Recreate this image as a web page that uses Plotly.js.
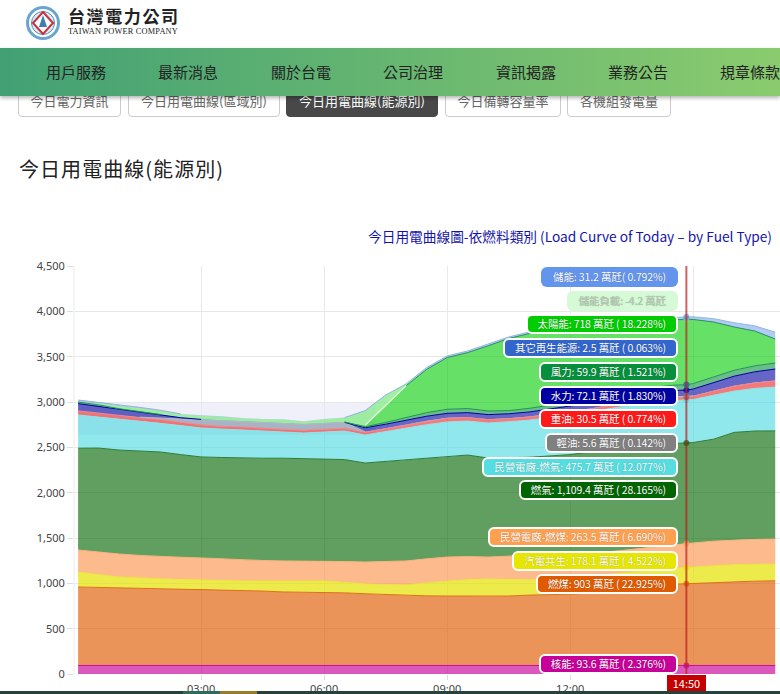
<!DOCTYPE html>
<html>
<head>
<meta charset="utf-8">
<script src="https://cdn.plot.ly/plotly-3.0.1.min.js"></script>
<style>
  html, body { margin: 0; padding: 0; background: #fff; overflow: hidden; width: 780px; height: 694px;
    font-family: "Noto Sans CJK TC", "Noto Sans", sans-serif; }
  #page { position: relative; width: 780px; height: 694px; overflow: hidden; }
  #brand { position: absolute; left: 68px; top: 5px; color: #222; }
  #brand .zh { font-size: 17px; font-weight: 700; letter-spacing: 1.6px; line-height: 22px; font-family: "Noto Sans CJK TC"; }
  #brand .en { font-size: 8.3px; font-family: "Liberation Serif", serif; letter-spacing: .2px; line-height: 10px; }
  #nav { position: absolute; left: 0; top: 48px; width: 780px; height: 48px; z-index: 5;
    background: linear-gradient(90deg, #42a074, #8acb6e); box-shadow: 0 2px 4px rgba(0,0,0,.3); }
  #nav span { position: absolute; top: 13px; font-size: 15px; line-height: 22px; color: #222; white-space: nowrap; }
  .btn { position: absolute; top: 80px; height: 37px; box-sizing: border-box; border: 1px solid #ccc; border-radius: 4px;
    font-size: 13px; color: #666; text-align: center; padding-top: 10px; background: #fff; white-space: nowrap; }
  .btn.on { background: #484848; color: #fff; border-color: #484848; }
  #heading { position: absolute; left: 19px; top: 155px; font-size: 20px; letter-spacing: 1.05px; line-height: 28px; color: #222; }
  #chart { position: absolute; left: 0; top: 0; width: 780px; height: 694px; }
  .tip { position: absolute; right: 102px; height: 20px; box-sizing: border-box; padding: 0 10px; border: 2px solid #fff;
    border-radius: 6px; font-size: 10.5px; letter-spacing: -.12px; line-height: 16px; color: #fff; white-space: nowrap; z-index: 3;
    text-shadow: 0 0 1px rgba(0,0,0,.35); }
  #nowTag { position: absolute; left: 667px; top: 675px; width: 39px; height: 16px; background: #c40000; color: #fff;
    font-size: 11px; line-height: 17px; text-align: center; z-index: 4; }
  #foot { position: absolute; left: 0; top: 691px; width: 780px; height: 3px; background: #25423c; z-index: 4; }
  #foot i { position: absolute; top: 0; height: 3px; }
</style>
</head>
<body>
<div id="page">
  <svg style="position:absolute;left:26px;top:6px" width="34" height="34" viewBox="0 0 34 34">
    <circle cx="17" cy="17" r="15.5" fill="#fff" stroke="#6aa5cf" stroke-width="3"/>
    <circle cx="17" cy="17" r="11.5" fill="#dbe9f2" stroke="#4d8fbd" stroke-width="1"/>
    <path d="M17 6 L27 17 L17 28 L7 17 Z" fill="#fff" stroke="#c8323c" stroke-width="2"/>
    <path d="M17 9 L21 21 L13 21 Z" fill="#3f7fae"/>
  </svg>
  <div id="brand"><div class="zh">台灣電力公司</div><div class="en">TAIWAN POWER COMPANY</div></div>
  <div id="buttons"></div>
  <div id="nav"></div>
  <div id="heading">今日用電曲線(能源別)</div>
  <div id="chart"></div>
  <div id="tips"></div>
  <div id="nowTag">14:50</div>
  <div id="foot"><i style="left:183px;width:37px;background:#2f6b5a"></i><i style="left:220px;width:37px;background:#9a7a2c"></i></div>
</div>
<script>
// =====================
// DATA
// =====================
const nowTime = "14:50";
const times = ["00:00","00:30","01:00","01:30","02:00","02:30","03:00","03:30","04:00","04:30","05:00","05:30",
  "06:00","06:30","07:00","07:30","08:00","08:30","09:00","09:30","10:00","10:30","11:00","11:30",
  "12:00","12:30","13:00","13:30","14:00","14:30","14:50","15:00","15:30","16:00","16:30","17:00"];

// 萬瓩, bottom of the stack first
const nuclear = [94,94,94,94,94,94,94,94,94,94,94,94,94,94,94,94,94,94,94,94,94,94,94,94,94,94,94,94,94,94,93.6,94,94,94,94,94];
const coal = [866,861,856,851,846,844,843,836,831,821,811,809,808,801,791,781,774,768,766,766,764,766,776,781,786,801,826,856,881,896,903,906,916,926,930,934];
const cogen = [165,140,120,115,108,104,100,100,101,111,121,123,124,115,108,110,114,143,166,180,190,182,167,173,180,185,180,175,175,175,178.1,180,185,185,186,185];
const privateCoal = [243,250,253,248,247,246,243,240,232,226,221,221,221,230,242,255,265,265,264,255,242,258,275,262,260,255,250,250,250,260,263.5,265,270,273,275,276];
const gas = [1122,1147,1147,1152,1154,1132,1114,1118,1124,1128,1133,1128,1124,1125,1092,1105,1113,1110,1104,1120,1092,1085,1078,1095,1100,1115,1130,1135,1130,1118,1109.4,1108,1125,1187,1195,1193];
const privateGas = [367,343,343,330,319,320,319,312,313,300,289,283,298,315,309,330,353,370,386,375,386,395,410,425,440,440,450,455,465,472,475.7,475,485,455,470,483];
const heavyOil = [45,40,35,38,40,38,35,30,30,30,30,30,30,30,30,30,35,38,40,38,38,35,35,34,34,34,34,34,34,35,30.5,35,45,55,60,66];
const lightOil = [0,0,0,5,15,34,57,65,60,65,65,65,65,65,5,5,5,5,5,5,5,5,5,5,5,5,5,5,5,5,5.6,5,5,5,5,5];
const hydro = [80,78,70,55,35,15,3,0,0,0,0,0,0,0,45,45,45,50,50,50,50,50,50,55,60,60,65,68,70,72,72.1,75,90,105,118,128];
const wind = [18,15,8,8,5,5,5,5,5,5,5,5,5,5,10,20,30,40,45,45,40,35,40,40,40,45,50,55,55,58,59.9,60,62,65,66,66];
const otherRenew = [2,2,2,2,2,2,2,2,2,2,2,2,2,2,2,2,2,2,2,2,2,2,2,2,2,2,2,2,2,2,2.5,2.5,3,3,3,3];
const solar = [0,0,0,0,0,0,0,0,0,0,0,0,0,0,15,180,350,475,568,615,717,793,823,839,849,834,799,766,744,723,718,705,602,474,381,262];
const storageLoad = [0,13,28,33,38,30,33,36,28,28,36,25,38,43,155,115,15,0,-2,-2,-3,-3,-3,-3,-3,-3,-3,-3,-4,-4,-4.2,-4,-3,-3,-3,-3];
const storage = [20,15,12,10,7,5,5,5,3,3,3,3,3,3,7,5,5,20,20,20,20,20,20,25,25,25,25,25,25,28,31.2,33,40,50,60,78];

// tooltip readout at 14:50, top of the box list first
const tipNames = ["儲能","儲能負載","太陽能","其它再生能源","風力","水力","重油","輕油","民營電廠-燃氣","燃氣","民營電廠-燃煤","汽電共生","燃煤","核能"];
const tipValues = ["31.2","-4.2","718","2.5","59.9","72.1","30.5","5.6","475.7","1,109.4","263.5","178.1","903","93.6"];
const tipPercents = ["0.792","","18.228","0.063","1.521","1.830","0.774","0.142","12.077","28.165","6.690","4.522","22.925","2.376"];

const yTicks = [0,500,1000,1500,2000,2500,3000,3500,4000,4500];
const xTickTimes = ["03:00","06:00","09:00","12:00","15:00"];
const xTickLabels = ["03:00","06:00","09:00","12:00",""]; // 15:00 sits under the time tag
const navItems = ["用戶服務","最新消息","關於台電","公司治理","資訊揭露","業務公告","規章條款"];
const tabItems = ["今日電力資訊","今日用電曲線(區域別)","今日用電曲線(能源別)","今日備轉容量率","各機組發電量"];

// =====================
// STYLES
// =====================
const day = "2024-01-01 ";
const xValues = times.map(t => day + t);
const navLeft = [46,158,271,383,496,608,720];
const tabLeft = [18,128,286,445,567];
const tabWidth = [103,152,152,116,104];
const tipColors = ["#6495ed","#d6fad6","#00cc00","#3366cc","#078f3c","#0000a0","#ff1a1a","#808080","#55dde0","#006400","#ffa050","#e6e600","#e05a00","#c7009a"];
const tipCenters = [277,301,324,348,372,396,419,443,467,490,537,561,584,664];

// name, values, edge line, marker, fill
const stackDefs = [
  ["核能", nuclear, "#c7109a", "#c7009a", "rgba(199,0,154,0.65)"],
  ["燃煤", coal, "#e0701a", "#e05a00", "rgba(224,90,0,0.65)"],
  ["汽電共生", cogen, "#ece63a", "#e6e600", "rgba(230,225,0,0.7)"],
  ["民營電廠-燃煤", privateCoal, "#f9b27c", "#ffa050", "rgba(252,150,80,0.65)"],
  ["燃氣", gas, "#2f7d38", "#006400", "rgba(0,100,0,0.62)"],
  ["民營電廠-燃氣", privateGas, "#8fe4e8", "#55dde0", "rgba(70,215,224,0.6)"],
  ["重油", heavyOil, "#f08a8a", "#ff1a1a", "rgba(240,30,30,0.6)"],
  ["輕油", lightOil, "#aebbc6", "#808080", "rgba(110,130,150,0.55)"],
  ["水力", hydro, "#0000a0", "#0000a0", "rgba(0,0,160,0.6)"],
  ["風力", wind, "#1a9a4a", "#078f3c", "rgba(7,143,60,0.6)"],
  ["其它再生能源", otherRenew, null, "#3366cc", "rgba(51,102,204,0.6)"],
  ["太陽能", solar, "#2a8f6a", "#2a6fb0", "rgba(0,204,0,0.6)"],
  ["儲能負載", storageLoad, null, "#90ee90", "rgba(130,235,130,0.75)"],
  ["儲能", storage, "#8fb8d8", "#6495ed", "rgba(100,149,237,0.5)"]
];

// filled stack, no edges
const fillTraces = stackDefs.map(d => ({
  type: "scatter",
  mode: "none",
  stackgroup: "load",
  name: d[0],
  x: xValues,
  y: d[1],
  fillcolor: d[4],
  hoverinfo: "skip"
}));

// edge lines follow the running total, and stop where a series has next to nothing to show
let runningTotal = times.map(() => 0);
let solarTop = [];
const edgeTraces = stackDefs.map(d => {
  runningTotal = runningTotal.map((v, i) => v + d[1][i]);
  if (d[1] === solar) solarTop = runningTotal.slice();
  // solar's edge goes pale where the storage load band lies over it
  const shown = d[1].map((v, i) => Math.abs(v) > 5 && !(d[1] === solar && storageLoad[i] > 5));
  return {
    type: "scatter",
    mode: "lines+markers",
    x: xValues,
    y: runningTotal.map((v, i) => (d[2] && (shown[i] || shown[i - 1] || shown[i + 1])) || times[i] === nowTime ? v : null),
    line: { color: d[2] || "rgba(0,0,0,0)", width: 1 },
    marker: { color: d[3], size: times.map(t => t === nowTime ? 6 : 0), line: { width: 0 } },
    hoverinfo: "skip"
  };
});
edgeTraces.push({
  type: "scatter",
  mode: "lines",
  x: xValues,
  y: solarTop.map((v, i) => solar[i] > 0 && storageLoad[i] > 5 ? v : null),
  line: { color: "#e6fbe6", width: 1.2 },
  hoverinfo: "skip"
});

// =====================
// LAYOUT
// =====================
const layout = {
  width: 780,
  height: 694,
  margin: { l: 74, r: 0, t: 266, b: 20, pad: 0 },
  paper_bgcolor: "rgba(0,0,0,0)",
  plot_bgcolor: "rgba(0,0,0,0)",
  showlegend: false,
  font: { family: '"Noto Sans", "Noto Sans CJK TC", sans-serif', size: 11, color: "#444" },
  title: {
    text: "今日用電曲線圖-依燃料類別 (Load Curve of Today – by Fuel Type)",
    font: { size: 13.7, color: "#1414a8", family: '"Noto Sans CJK TC", sans-serif' },
    x: 772 / 780, xanchor: "right",
    y: 1 - 237 / 694, yanchor: "middle"
  },
  xaxis: {
    type: "date",
    range: ["2023-12-31 23:54", "2024-01-01 17:07"],
    autorange: false,
    tickvals: xTickTimes.map(t => day + t),
    ticktext: xTickLabels,
    ticks: "outside", ticklen: 5, tickcolor: "#ddd",
    showgrid: true, gridcolor: "#e8e8ee", gridwidth: 1,
    zeroline: false, showline: false
  },
  yaxis: {
    range: [0, 4500],
    autorange: false,
    tickvals: yTicks,
    tickformat: ",d",
    ticks: "outside", ticklen: 6, tickcolor: "#ddd",
    showgrid: true, gridcolor: "#e8e8e8", gridwidth: 1,
    zeroline: false, showline: false
  },
  shapes: [
    // faint band behind the night part of the curve
    { type: "rect", layer: "below", xref: "x", yref: "y", x0: day + "00:00", x1: day + "07:15", y0: 2640, y1: 3000,
      fillcolor: "#f0f0fa", line: { width: 0 } },
    // left edge of the plot
    { type: "line", layer: "below", xref: "paper", yref: "paper", x0: 0, x1: 0, y0: 0, y1: 1,
      line: { color: "#ececec", width: 1 } },
    // current time crosshair
    { type: "line", layer: "above", xref: "x", yref: "paper", x0: day + nowTime, x1: day + nowTime, y0: 0, y1: 1,
      line: { color: "rgba(190,30,30,0.7)", width: 2 } }
  ]
};

// =====================
// PAGE PARTS
// =====================
document.getElementById("nav").innerHTML = navItems.map((t, i) =>
  '<span style="left:' + navLeft[i] + 'px">' + t + '</span>').join("");
document.getElementById("buttons").innerHTML = tabItems.map((t, i) =>
  '<div class="btn' + (i === 2 ? " on" : "") + '" style="left:' + tabLeft[i] + 'px;width:' + tabWidth[i] + 'px">' + t + '</div>').join("");
document.getElementById("tips").innerHTML = tipNames.map((n, i) => {
  const pct = tipPercents[i] ? (i === 0 ? "( " : " ( ") + tipPercents[i] + "%)" : "";
  const edge = i < 2 ? "border-color:transparent;" : "";
  const ink = i === 1 ? "color:#b8c8b8;" : "";
  return '<div class="tip" style="top:' + (tipCenters[i] - 10) + 'px;background:' + tipColors[i] + ';' + edge + ink + '">' +
    n + ": " + tipValues[i] + " 萬瓩" + pct + '</div>';
}).join("");

Plotly.newPlot("chart", fillTraces.concat(edgeTraces), layout, { displayModeBar: false, staticPlot: true });
</script>
</body>
</html>
